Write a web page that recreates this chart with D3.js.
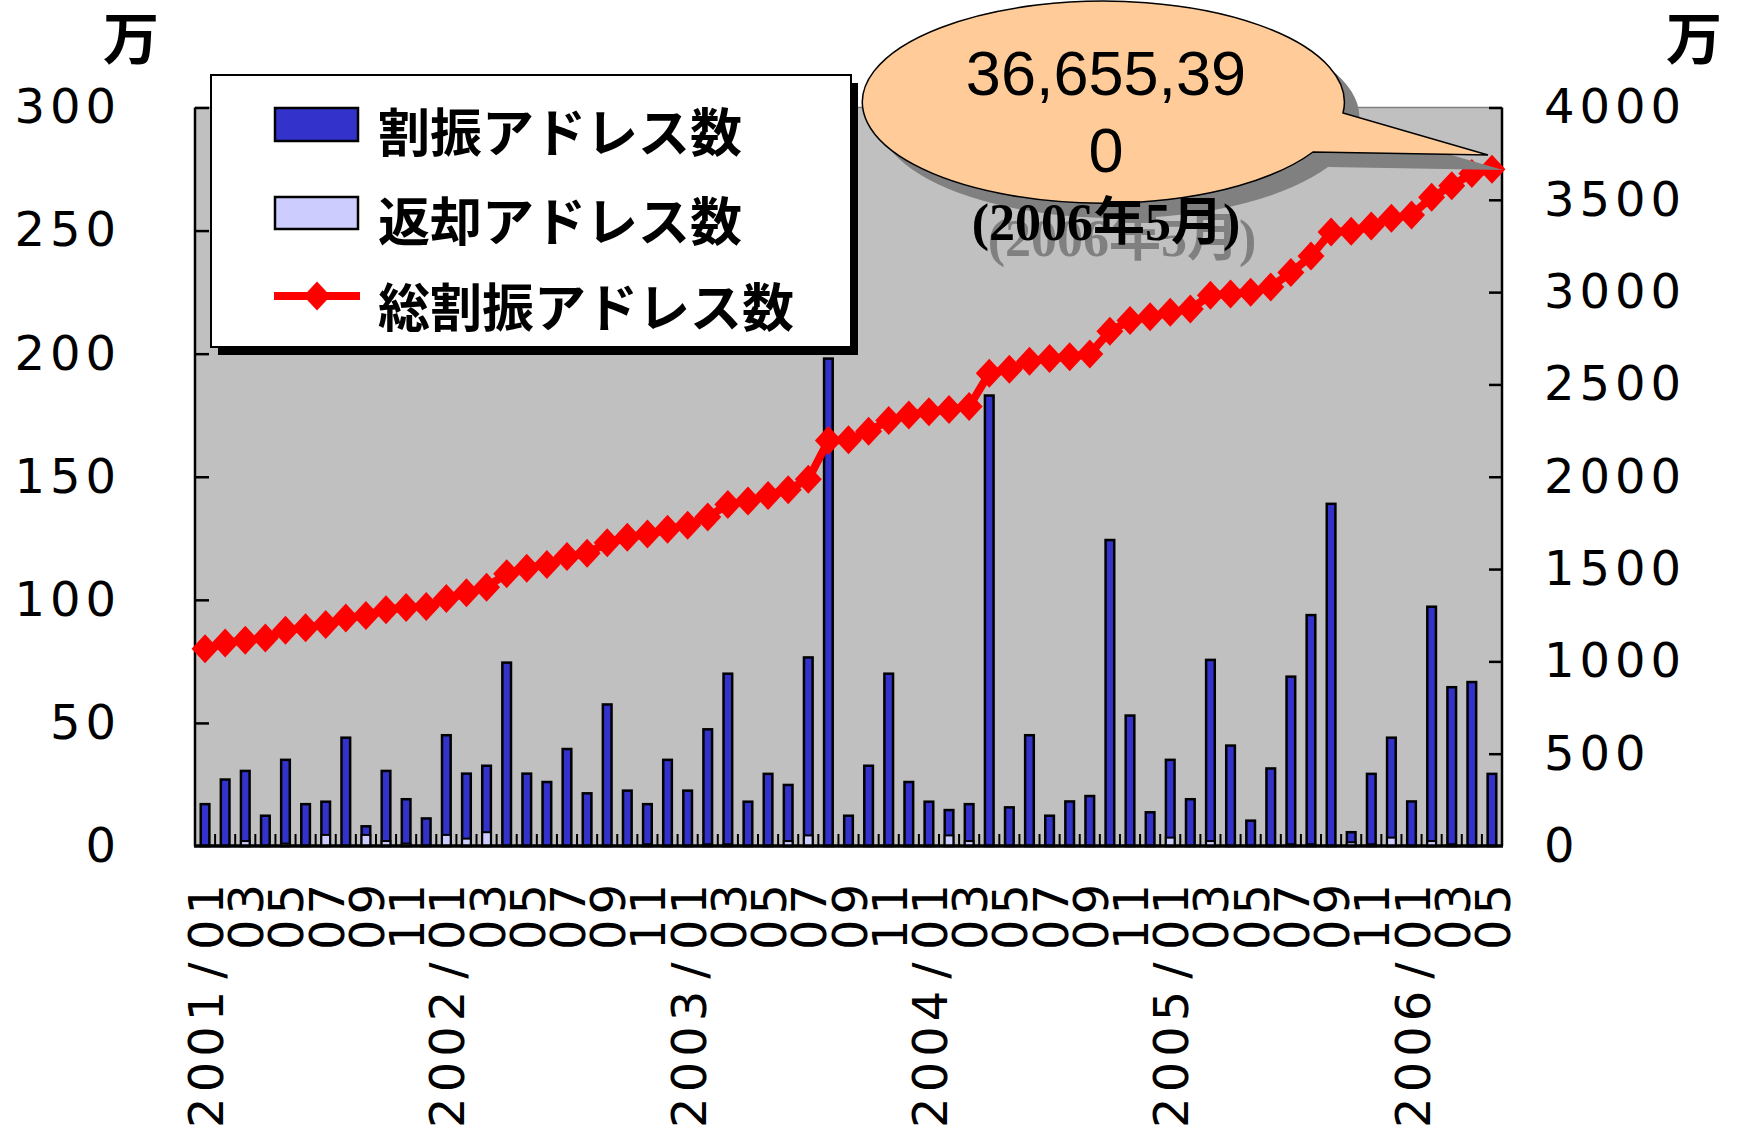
<!DOCTYPE html>
<head>
  <meta charset="utf-8">
  <title>割振アドレス数</title>
</head>
<style>
body { margin: 0; background: #fff; }
.num { font-family: "DejaVu Sans", sans-serif; font-size: 48px; letter-spacing: 5px; fill: #000; }
.jp { font-family: "Noto Sans CJK JP", sans-serif; font-weight: bold; fill: #000; }
.axis .domain { display: none; }
.axis line { stroke: #000; stroke-width: 2.5px; }
</style>
<body>
<svg width="1738" height="1137"></svg>
<script src="https://d3js.org/d3.v7.min.js"></script>
<script>
var svg = d3.select("svg"),
    margin = { top: 107.5, bottom: 846, left: 195, right: 1502 };

var months = [
  "2001/01","2001/02","2001/03","2001/04","2001/05","2001/06","2001/07","2001/08","2001/09","2001/10","2001/11","2001/12",
  "2002/01","2002/02","2002/03","2002/04","2002/05","2002/06","2002/07","2002/08","2002/09","2002/10","2002/11","2002/12",
  "2003/01","2003/02","2003/03","2003/04","2003/05","2003/06","2003/07","2003/08","2003/09","2003/10","2003/11","2003/12",
  "2004/01","2004/02","2004/03","2004/04","2004/05","2004/06","2004/07","2004/08","2004/09","2004/10","2004/11","2004/12",
  "2005/01","2005/02","2005/03","2005/04","2005/05","2005/06","2005/07","2005/08","2005/09","2005/10","2005/11","2005/12",
  "2006/01","2006/02","2006/03","2006/04","2006/05"];

var tickLabels = ["2001/01","03","05","07","09","11","2002/01","03","05","07","09","11",
  "2003/01","03","05","07","09","11","2004/01","03","05","07","09","11",
  "2005/01","03","05","07","09","11","2006/01","03","05"];

// 割振アドレス数 (万)
var allocated = [17,27,30.5,12.3,35,17,18,44,8,30.5,
  19,11.2,45,29.4,32.6,74.5,29.4,26,39.4,21.4,
  57.5,22.5,17,35,22.5,47.4,70,18,29.3,24.8,
  76.6,198,12.3,32.6,70,26,18,14.6,17,183,
  15.7,45,12.3,18.1,20.3,124.3,53,13.7,35,19,
  75.6,40.8,10.3,31.5,68.8,93.8,139,5.6,29.3,44,
  18.1,97.2,64.5,66.6,29.3];

// 返却アドレス数 (万)
var returned = [0,0,2,0,1,0,4.5,0,4.5,2,
  1,0,4.5,3,5.6,0,0,0,0,0,
  0,0,0.7,0,0,0.7,0.7,0,0,2,
  4.3,0,0,0,0,0,0,4.3,2,0,
  0,0,0,0,0,0,0,0,3.4,0,
  2,0,0,0,0.7,0.7,0,1.5,0.7,3.4,
  0,2,0.7,0,0];

// 総割振アドレス数 (万)
var total = [1068,1100,1115,1127,1168,1182,1200,1235,1248,1280,
  1292,1297,1340,1372,1402,1475,1505,1525,1568,1585,
  1642,1672,1690,1716,1737,1782,1850,1868,1898,1930,
  1986,2196,2200,2246,2305,2334,2352,2364,2380,2560,
  2582,2626,2640,2650,2665,2788,2846,2866,2891,2908,
  2983,2990,3000,3028,3106,3195,3326,3330,3358,3400,
  3418,3514,3576,3642,3665.5];

var leftTicks = [0,50,100,150,200,250,300];
var rightTicks = [0,500,1000,1500,2000,2500,3000,3500,4000];

var x = d3.scaleBand().domain(months).range([margin.left, margin.right]);
var yL = d3.scaleLinear().domain([0, 300]).range([margin.bottom, margin.top]);
var yR = d3.scaleLinear().domain([0, 4000]).range([margin.bottom, margin.top]);
var bw = x.bandwidth() * 0.43;
function cx(d) { return x(d) + x.bandwidth() / 2; }

// plot area
svg.append("rect")
  .attr("x", margin.left).attr("y", margin.top)
  .attr("width", margin.right - margin.left).attr("height", margin.bottom - margin.top)
  .attr("fill", "#c0c0c0");
svg.append("line")
  .attr("x1", margin.left).attr("x2", margin.right)
  .attr("y1", margin.top).attr("y2", margin.top)
  .attr("stroke", "#808080").attr("stroke-width", 1.5);

// bars
svg.append("g").selectAll("rect")
  .data(months)
  .enter().append("rect")
    .attr("x", function(d) { return cx(d) - bw / 2; })
    .attr("y", function(d, i) { return yL(allocated[i]); })
    .attr("width", bw)
    .attr("height", function(d, i) { return yL(0) - yL(allocated[i]); })
    .attr("fill", "#3333cc").attr("stroke", "#000").attr("stroke-width", 2.5);

svg.append("g").selectAll("rect")
  .data(months.filter(function(d, i) { return returned[i] > 0; }))
  .enter().append("rect")
    .attr("x", function(d) { return cx(d) - bw / 2; })
    .attr("y", function(d) { return yL(returned[months.indexOf(d)]); })
    .attr("width", bw)
    .attr("height", function(d) { return yL(0) - yL(returned[months.indexOf(d)]); })
    .attr("fill", "#ccccff").attr("stroke", "#000").attr("stroke-width", 2);

// category ticks between months
svg.append("g").selectAll("line")
  .data(months.slice(1))
  .enter().append("line")
    .attr("x1", function(d) { return x(d); }).attr("x2", function(d) { return x(d); })
    .attr("y1", margin.bottom).attr("y2", margin.bottom - 12)
    .attr("stroke", "#000").attr("stroke-width", 2);

// axes
svg.append("g").attr("class", "axis")
  .attr("transform", "translate(" + margin.left + ",0)")
  .call(d3.axisLeft(yL).tickValues(leftTicks).tickFormat(d3.format("d")).tickSize(-14).tickPadding(74));
svg.append("g").attr("class", "axis")
  .attr("transform", "translate(" + margin.right + ",0)")
  .call(d3.axisRight(yR).tickValues(rightTicks).tickFormat(d3.format("d")).tickSize(-13).tickPadding(42));
svg.selectAll(".axis text").attr("class", "num").attr("font-size", null).attr("font-family", null);
svg.selectAll(".axis .tick line").filter(function(d) { return d === 0; }).remove();

svg.append("line").attr("x1", margin.left).attr("x2", margin.left)
  .attr("y1", margin.top).attr("y2", margin.bottom).attr("stroke", "#000").attr("stroke-width", 2.5);
svg.append("line").attr("x1", margin.right).attr("x2", margin.right)
  .attr("y1", margin.top).attr("y2", margin.bottom).attr("stroke", "#000").attr("stroke-width", 2.5);
svg.append("line").attr("x1", margin.left - 1).attr("x2", margin.right + 1)
  .attr("y1", margin.bottom).attr("y2", margin.bottom).attr("stroke", "#000").attr("stroke-width", 3.5);

// month labels; the slash gets a full-width cell like the other characters
var xl = svg.append("g").selectAll("text")
  .data(months.filter(function(d, i) { return i % 2 === 0; }))
  .enter().append("text")
    .attr("class", "num")
    .attr("text-anchor", "end")
    .attr("transform", function(d) { return "translate(" + (cx(d) + 18) + ",879) rotate(-90)"; });
xl.each(function(d, i) {
  var t = d3.select(this), parts = tickLabels[i].split("/");
  if (parts.length === 1) { t.text(parts[0]); return; }
  t.append("tspan").text(parts[0]);
  t.append("tspan").attr("dx", 7).text("/");
  t.append("tspan").attr("dx", 7.5).text(parts[1]);
});

// total line
var diamond = "M0,-14.5L13.5,0L0,14.5L-13.5,0Z";
svg.append("path")
  .datum(months)
  .attr("fill", "none").attr("stroke", "#ff0000").attr("stroke-width", 8)
  .attr("d", d3.line().x(cx).y(function(d, i) { return yR(total[i]); }));
svg.append("g").selectAll("path")
  .data(months)
  .enter().append("path")
    .attr("d", diamond).attr("fill", "#ff0000")
    .attr("transform", function(d, i) { return "translate(" + cx(d) + "," + yR(total[i]) + ")"; });

// 万 units
svg.append("text").attr("class", "jp").attr("font-size", 56).attr("text-anchor", "middle")
  .attr("x", 131).attr("y", 59).text("万");
svg.append("text").attr("class", "jp").attr("font-size", 56).attr("text-anchor", "middle")
  .attr("x", 1694).attr("y", 59).text("万");

// legend
svg.append("rect").attr("x", 218).attr("y", 83).attr("width", 640).attr("height", 272).attr("fill", "#000");
svg.append("rect").attr("x", 211).attr("y", 75).attr("width", 640).attr("height", 272)
  .attr("fill", "#fff").attr("stroke", "#000").attr("stroke-width", 2);
svg.append("rect").attr("x", 275).attr("y", 108).attr("width", 83).attr("height", 33)
  .attr("fill", "#3333cc").attr("stroke", "#000").attr("stroke-width", 2.5);
svg.append("rect").attr("x", 275).attr("y", 197).attr("width", 83).attr("height", 32)
  .attr("fill", "#ccccff").attr("stroke", "#000").attr("stroke-width", 2.5);
svg.append("line").attr("x1", 274).attr("x2", 360).attr("y1", 296).attr("y2", 296)
  .attr("stroke", "#ff0000").attr("stroke-width", 8);
svg.append("path").attr("d", diamond).attr("fill", "#ff0000").attr("transform", "translate(317,296)");
var legendNames = ["割振アドレス数", "返却アドレス数", "総割振アドレス数"];
svg.append("g").selectAll("text")
  .data(legendNames)
  .enter().append("text")
    .attr("class", "jp").attr("font-size", 52)
    .attr("x", 378).attr("y", function(d, i) { return [152, 241, 327][i]; })
    .text(function(d) { return d; });

// callout
var bubble = "M1313,152A241,101 0 1 1 1343,113L1488,155Z";
svg.append("path").attr("d", bubble).attr("fill", "#808080").attr("transform", "translate(15,15)");
svg.append("path").attr("d", bubble).attr("fill", "#ffcc99").attr("stroke", "#000").attr("stroke-width", 1.5);
svg.append("text").attr("x", 1106).attr("y", 95).attr("text-anchor", "middle")
  .style("font-family", "'Liberation Sans', Arial, sans-serif").style("font-size", "63px").text("36,655,39");
svg.append("text").attr("x", 1106).attr("y", 172).attr("text-anchor", "middle")
  .style("font-family", "'Liberation Sans', Arial, sans-serif").style("font-size", "63px").text("0");
[["#808080", 16], ["#000", 0]].forEach(function(s) {
  svg.append("text").attr("x", 1106 + s[1]).attr("y", 240 + s[1]).attr("text-anchor", "middle")
    .attr("fill", s[0])
    .style("font-family", "'Liberation Serif', 'Noto Sans CJK JP', serif")
    .style("font-weight", "bold").style("font-size", "52px")
    .text("(2006年5月)");
});
</script>
</body>
